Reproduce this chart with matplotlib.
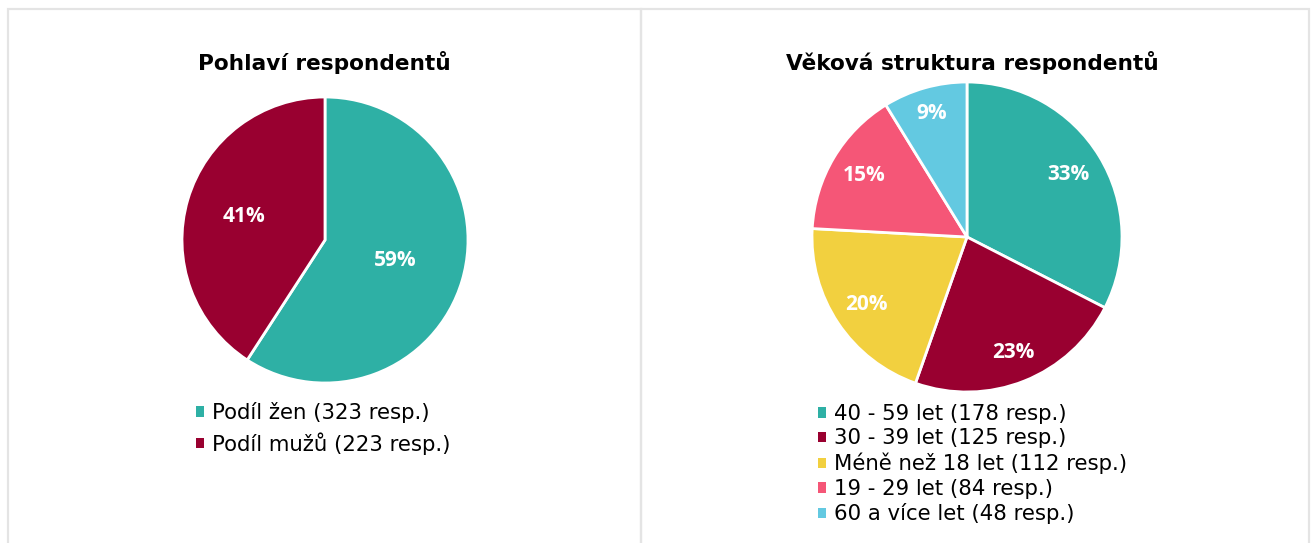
import numpy as np
import matplotlib
matplotlib.use('Agg')
import matplotlib.pyplot as plt
from matplotlib.patches import Rectangle, Patch

plt.rcParams['font.family'] = ['DejaVu Sans']

# data
gender_title = 'Pohlaví respondentů'
gender_labels = ['Podíl žen (323 resp.)', 'Podíl mužů (223 resp.)']
gender_counts = [323, 223]
gender_colors = ['#2EB0A5', '#990030']

age_title = 'Věková struktura respondentů'
age_labels = ['40 - 59 let (178 resp.)', '30 - 39 let (125 resp.)',
              'Méně než 18 let (112 resp.)', '19 - 29 let (84 resp.)',
              '60 a více let (48 resp.)']
age_counts = [178, 125, 112, 84, 48]
age_colors = ['#2EB0A5', '#990030', '#F2D03F', '#F55677', '#63C9E1']

W, H = 1314, 543
fig = plt.figure(figsize=(W / 100, H / 100), dpi=100)
fig.patch.set_facecolor('white')

# panel frames
border = '#E4E4E4'
for x0, x1 in [(8, 641), (641, 1309)]:
    fig.add_artist(Rectangle((x0 / W, -0.1), (x1 - x0) / W, 1.1 - 9 / H,
                             transform=fig.transFigure, fill=False,
                             edgecolor=border, linewidth=1.6))


def draw_pie(cx, cy, r, counts, colors, label_dist, title, tx, labels, lx, ly, spacing):
    pad = 1.03
    rr = r * pad
    ax = fig.add_axes([(cx - rr) / W, (H - cy - rr) / H, 2 * rr / W, 2 * rr / H])
    wedges, texts, autotexts = ax.pie(
        counts, colors=colors, startangle=90, counterclock=False,
        autopct=lambda p: f'{p:.0f}%',
        wedgeprops=dict(edgecolor='white', linewidth=2.0),
        textprops=dict(color='white', fontsize=15, fontweight='bold',
                       family='Open Sans'))
    for w, t, d in zip(wedges, autotexts, label_dist):
        ang = np.deg2rad((w.theta1 + w.theta2) / 2)
        t.set_position((d * np.cos(ang), d * np.sin(ang)))
        t.set_ha('center')
        t.set_va('center')
    ax.set_xlim(-pad, pad)
    ax.set_ylim(-pad, pad)
    ax.set_aspect('equal')
    ax.axis('off')

    fig.text(tx / W, 1 - 62 / H, title, ha='center', va='center',
             fontsize=15.6, fontweight='bold', color='black')

    handles = [Patch(facecolor=c, edgecolor='none') for c in colors]
    fig.legend(handles, labels, loc='upper left',
               bbox_to_anchor=(lx / W, 1 - ly / H), frameon=False,
               fontsize=15.3, handlelength=0.38, handleheight=0.38,
               handletextpad=0.38, labelspacing=spacing,
               borderpad=0, borderaxespad=0)


draw_pie(325, 240, 143, gender_counts, gender_colors, [0.51, 0.59],
         gender_title, 324, gender_labels, 196, 402, 0.42)
draw_pie(967, 237, 155, age_counts, age_colors, [0.77, 0.80, 0.78, 0.77, 0.83],
         age_title, 972, age_labels, 818, 404, 0.21)

fig.savefig('out.png', dpi=100, facecolor='white')
